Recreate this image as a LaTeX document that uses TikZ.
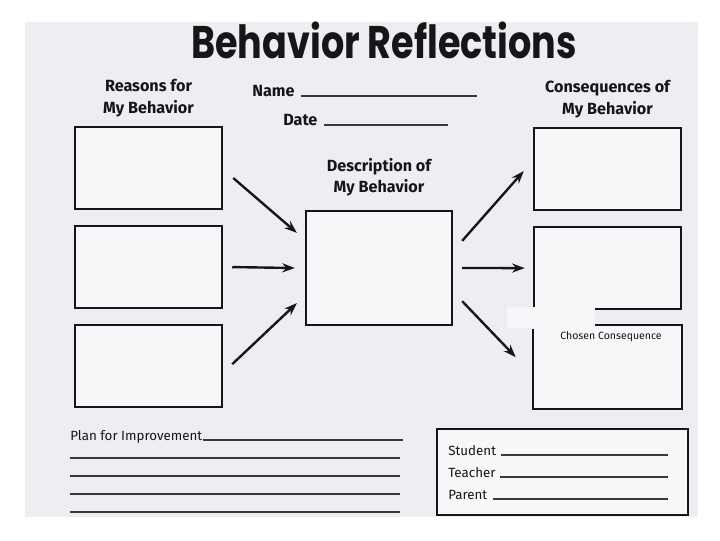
\documentclass[tikz,border=0pt]{standalone}
\usepackage{fontspec}
\setmainfont{Fira Sans}
\newfontfamily\titlefont{Poppins}
\usetikzlibrary{arrows.meta, positioning, calc}
\definecolor{paper}{RGB}{236,238,242}
\definecolor{boxfill}{RGB}{246,247,249}
\definecolor{ink}{RGB}{22,22,24}
\tikzset{
  refbox/.style={rectangle, draw=ink, fill=boxfill, line width=1.6pt,
    minimum width=3.68cm, minimum height=2.05cm, inner sep=0pt},
  centerbox/.style={refbox, minimum width=3.65cm, minimum height=2.85cm},
  signbox/.style={refbox, minimum width=6.28cm, minimum height=2.15cm},
  heading/.style={font=\bfseries\fontsize{11.5}{15.5}\selectfont,
    align=center, text=ink},
  formtext/.style={font=\fontsize{9.5}{11}\selectfont, text=ink,
    inner sep=0pt, anchor=base west},
  arrow/.style={-{Stealth[length=9pt,width=6.5pt]}, line width=1.7pt, color=ink},
  rule/.style={line width=0.9pt, color=ink!85}
}

\begin{document}
\begin{tikzpicture}[x=0.025cm, y=-0.025cm, node distance=0.37cm]
  \useasboundingbox (0,0) rectangle (720,540);
  \fill[white] (0,0) rectangle (720,540);
  \fill[paper] (25,22) rectangle (698,517);

  \node[font=\titlefont\bfseries\fontsize{26}{30}\selectfont, text=ink] (title) at (384,40)
    {\scalebox{1}[1.25]{Behavior Reflections}};

  % reasons
  \node[refbox] (reason1) at (148.5,168) {};
  \node[refbox, below=of reason1] (reason2) {};
  \node[refbox, below=of reason2] (reason3) {};
  \node[heading, above=3pt of reason1] (reasonslbl) {Reasons for\\My Behavior};

  % description
  \node[centerbox] (desc) at (379,268) {};
  \node[heading, above=6pt of desc] (desclbl) {Description of\\My Behavior};

  % consequences
  \node[refbox] (conseq1) at (607.5,169) {};
  \node[refbox, below=of conseq1] (conseq2) {};
  \node[refbox, draw=none, below=of conseq2] (conseq3) {};
  \node[heading, above=3pt of conseq1] (conseqlbl) {Consequences of\\My Behavior};
  \fill[boxfill] ($(conseq3.north west)+(-26,-18)$) rectangle ($(conseq3.north west)+(62,3)$);
  \draw[line width=1.6pt, ink] ($(conseq3.north west)+(62,0)$) -- (conseq3.north east)
    -- (conseq3.south east) -- (conseq3.south west) -- ($(conseq3.north west)+(0,4)$);
  \node[font=\fontsize{7.5}{9}\selectfont, text=ink] (chosen) at (611,337) {Chosen Consequence};

  % name and date
  \node[heading, anchor=base west, inner sep=0pt] (name) at (252,96) {Name};
  \draw[rule] ($(name.base east)+(6,0)$) -- ++(176,0);
  \node[heading, anchor=base west, inner sep=0pt] (date) at (283,125) {Date};
  \draw[rule] ($(date.base east)+(6,0)$) -- ++(124,0);

  % arrows
  \draw[arrow] ($(reason1.east)+(10,10)$) -- ($(desc.north west)+(-8,23)$);
  \draw[arrow] ($(reason2.east)+(9,0)$) -- ($(desc.west)+(-10,0)$);
  \draw[arrow] ($(reason3.east)+(9,-2)$) -- ($(desc.south west)+(-8,-23)$);
  \draw[arrow] ($(desc.north east)+(9,31)$) -- ($(conseq1.west)+(-9,2)$);
  \draw[arrow] ($(desc.east)+(9,0)$) -- ($(conseq2.west)+(-8,0)$);
  \draw[arrow] ($(desc.south east)+(9,-25)$) -- ($(conseq3.west)+(-17,-10)$);

  % plan for improvement
  \node[formtext] (plan) at (70,440) {Plan for Improvement};
  \draw[rule] (plan.base east) -- ++(200,0);
  \foreach \i in {1,...,4}
    \draw[rule] ($(plan.base west)+(0,18*\i)$) -- ++(330,0);

  % signatures
  \node[signbox] (signs) at (562.5,472) {};
  \foreach \who/\y/\gap in {Student/455/5, Teacher/477/4, Parent/499/5}{
    \node[formtext] (\who) at (448,\y) {\who};
    \draw[rule] ($(\who.base east)+(\gap,0)$) -- ($(\who.base -| signs.east)+(-21,0)$);
  }
\end{tikzpicture}
\end{document}
